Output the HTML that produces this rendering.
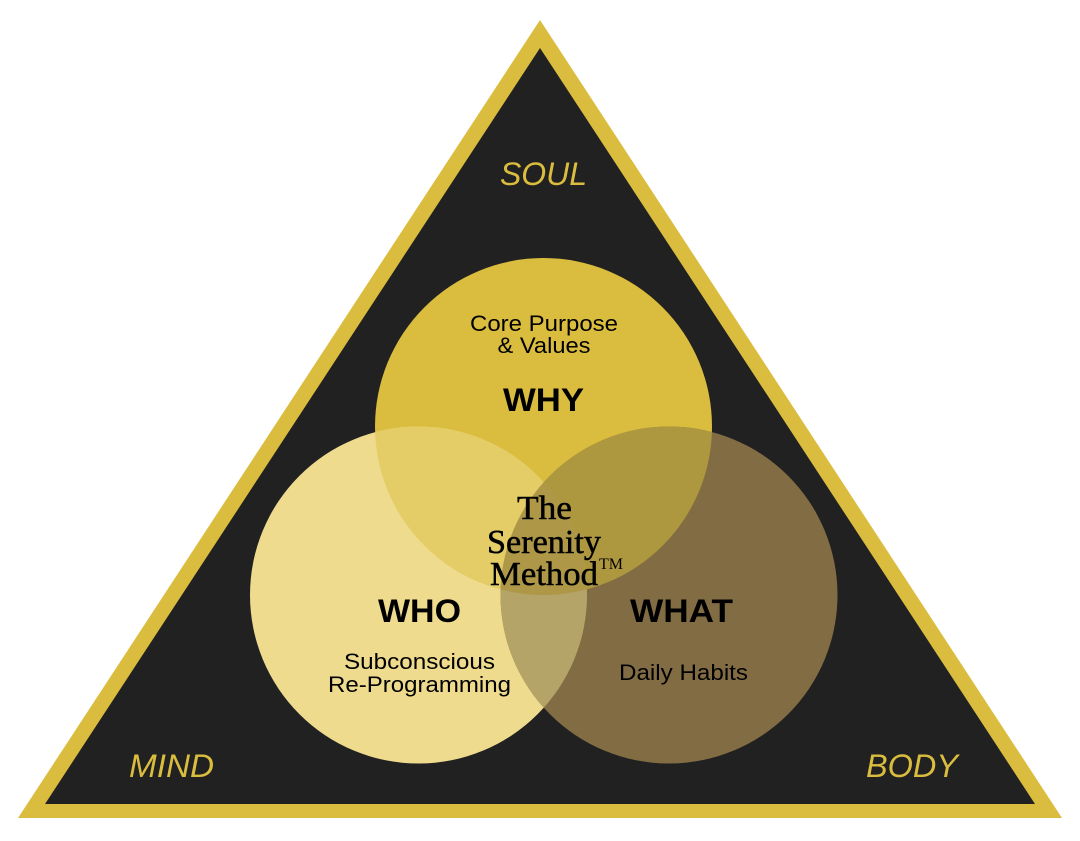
<!DOCTYPE html>
<html><head><meta charset="utf-8"><style>
html,body{margin:0;padding:0;background:#fff}
svg{display:block}
.s{font-family:"Liberation Sans",sans-serif;fill:#000}
.i{font-family:"Liberation Sans",sans-serif;font-style:italic;fill:#dabd3e;font-size:32px;text-anchor:middle}
.b{font-weight:bold;font-size:32px;text-anchor:middle}
.r{font-size:22px;text-anchor:middle}
.t{font-family:"Liberation Serif",serif;font-size:34px;text-anchor:middle;fill:#000;stroke:#000;stroke-width:.5}
</style></head><body>
<svg width="1080" height="841" viewBox="0 0 1080 841" xmlns="http://www.w3.org/2000/svg">
<defs>
<clipPath id="cwhy"><circle cx="543.5" cy="426.5" r="168.5"/></clipPath>
<clipPath id="cwho"><circle cx="418.5" cy="595" r="168.5"/></clipPath>
<clipPath id="cwhat"><circle cx="669" cy="595" r="168.5"/></clipPath>
</defs>
<rect width="1080" height="841" fill="#fff"/>
<polygon points="540,20 1062,818 18,818" fill="#dabd3e"/>
<polygon points="540,48 1035,804 45,804" fill="#212121"/>
<circle cx="543.5" cy="426.5" r="168.5" fill="#dabd3e"/>
<circle cx="418.5" cy="595" r="168.5" fill="#eedb8e"/>
<circle cx="669" cy="595" r="168.5" fill="#826c43"/>
<circle cx="418.5" cy="595" r="168.5" fill="#e4cd66" clip-path="url(#cwhy)"/>
<circle cx="669" cy="595" r="168.5" fill="#ae983f" clip-path="url(#cwhy)"/>
<g clip-path="url(#cwho)"><circle cx="669" cy="595" r="168.5" fill="#b5a468"/></g>
<g clip-path="url(#cwho)"><g clip-path="url(#cwhy)"><circle cx="669" cy="595" r="168.5" fill="#ae9848"/></g></g>
<text class="i" x="543.5" y="185" textLength="87" lengthAdjust="spacingAndGlyphs">SOUL</text>
<text class="i" x="171.5" y="777" textLength="85" lengthAdjust="spacingAndGlyphs">MIND</text>
<text class="i" x="912" y="777" textLength="92" lengthAdjust="spacingAndGlyphs">BODY</text>
<text class="s r" x="544" y="331" textLength="148" lengthAdjust="spacingAndGlyphs">Core Purpose</text>
<text class="s r" x="544" y="353" textLength="93" lengthAdjust="spacingAndGlyphs">&amp; Values</text>
<text class="s b" x="543.5" y="411" textLength="81" lengthAdjust="spacingAndGlyphs">WHY</text>
<text class="s b" x="419.5" y="622" textLength="83" lengthAdjust="spacingAndGlyphs">WHO</text>
<text class="s b" x="681.5" y="622" textLength="103" lengthAdjust="spacingAndGlyphs">WHAT</text>
<text class="s r" x="419.5" y="669" textLength="151" lengthAdjust="spacingAndGlyphs">Subconscious</text>
<text class="s r" x="419.5" y="692" textLength="183" lengthAdjust="spacingAndGlyphs">Re-Programming</text>
<text class="s r" x="683.5" y="680" textLength="129" lengthAdjust="spacingAndGlyphs">Daily Habits</text>
<text class="t" x="544.5" y="519" textLength="55" lengthAdjust="spacingAndGlyphs">The</text>
<text class="t" x="544" y="553" textLength="114" lengthAdjust="spacingAndGlyphs">Serenity</text>
<text class="t" x="544" y="585" textLength="108" lengthAdjust="spacingAndGlyphs">Method</text>
<text x="611" y="569" font-family="Liberation Serif,serif" font-size="16" text-anchor="middle" fill="#000">TM</text>
</svg>
</body></html>
